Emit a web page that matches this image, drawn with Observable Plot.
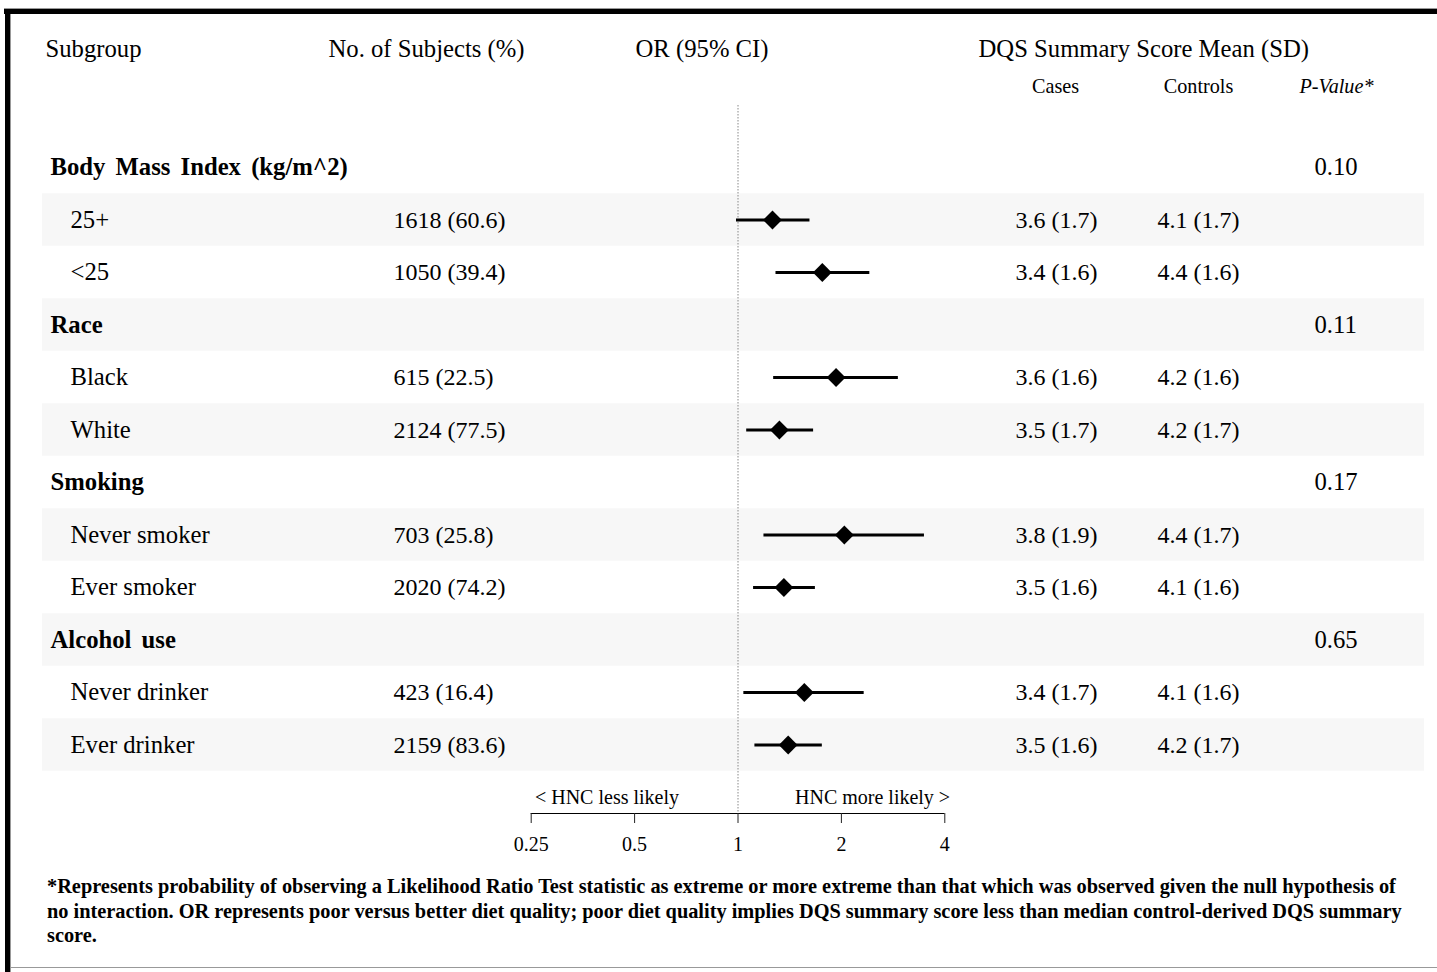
<!DOCTYPE html>
<html>
<head>
<meta charset="utf-8">
<script src="https://cdn.jsdelivr.net/npm/d3@7"></script>
<script src="https://cdn.jsdelivr.net/npm/@observablehq/plot@0.6"></script>
<style>
  html, body { margin: 0; padding: 0; background: #fff; }
  #page { position: relative; width: 1437px; height: 972px; overflow: hidden; background: #fff; font-family: "Liberation Serif", "Times New Roman", serif; color: #000; }
  #chart { position: absolute; left: 0; top: 0; }
  .bd { position: absolute; }
  #foot { position: absolute; left: 47px; top: 874px; font-weight: bold; font-size: 17px; line-height: 24.5px; white-space: nowrap; }
</style>
</head>
<body>
<div id="page">
  <div id="chart"></div>
  <div id="foot"></div>
  <div class="bd" style="left:4px;top:8px;width:1433px;height:1px;background:#999"></div>
  <div class="bd" style="left:4px;top:9px;width:1433px;height:5px;background:#000"></div>
  <div class="bd" style="left:5px;top:9px;width:5px;height:963px;background:#000"></div>
  <div class="bd" style="left:10px;top:14px;width:1px;height:958px;background:#999"></div>
  <div class="bd" style="left:10px;top:967px;width:1427px;height:1px;background:#999"></div>
</div>
<script>
// ---- data ----
const groupNames = ["Body Mass Index (kg/m^2)", "Race", "Smoking", "Alcohol use"];
const groupP = ["0.10", "0.11", "0.17", "0.65"];
const subgroups = ["25+", "<25", "Black", "White", "Never smoker", "Ever smoker", "Never drinker", "Ever drinker"];
const subgroupGroup = [0, 0, 1, 1, 2, 2, 3, 3];
const nSubjects = ["1618 (60.6)", "1050 (39.4)", "615 (22.5)", "2124 (77.5)", "703 (25.8)", "2020 (74.2)", "423 (16.4)", "2159 (83.6)"];
const orEst  = [1.26, 1.76, 1.93, 1.32, 2.04, 1.36, 1.56, 1.40];
const orLow  = [0.99, 1.29, 1.27, 1.06, 1.19, 1.11, 1.04, 1.12];
const orHigh = [1.62, 2.42, 2.93, 1.66, 3.49, 1.68, 2.33, 1.76];
const casesMean    = ["3.6 (1.7)", "3.4 (1.6)", "3.6 (1.6)", "3.5 (1.7)", "3.8 (1.9)", "3.5 (1.6)", "3.4 (1.7)", "3.5 (1.6)"];
const controlsMean = ["4.1 (1.7)", "4.4 (1.6)", "4.2 (1.6)", "4.2 (1.7)", "4.4 (1.7)", "4.1 (1.6)", "4.1 (1.6)", "4.2 (1.7)"];
const orTicks = [0.25, 0.5, 1, 2, 4];
const headerLabels = ["Subgroup", "No. of Subjects (%)", "OR (95% CI)", "DQS Summary Score Mean (SD)"];
const subHeaderLabels = ["Cases", "Controls", "P-Value*"];
const directionLabels = ["< HNC less likely", "HNC more likely >"];
const footLines = [
  "*Represents probability of observing a Likelihood Ratio Test statistic as extreme or more extreme than that which was observed given the null hypothesis of",
  "no interaction. OR represents poor versus better diet quality; poor diet quality implies DQS summary score less than median control-derived DQS summary",
  "score."
];

// ---- build rows ----
const rows = [];
groupNames.forEach((g, gi) => {
  rows.push({type: "group", label: g, p: groupP[gi]});
  subgroups.forEach((s, si) => {
    if (subgroupGroup[si] === gi) {
      rows.push({type: "sub", label: s, n: nSubjects[si], est: orEst[si], lo: orLow[si], hi: orHigh[si], cases: casesMean[si], controls: controlsMean[si]});
    }
  });
});
rows.forEach((r, i) => { r.id = "r" + i; r.shade = i % 2 === 1; });
const groupRows = rows.filter(r => r.type === "group");
const subRows = rows.filter(r => r.type === "sub");
const shadeRows = rows.filter(r => r.shade);

const FONT = "Liberation Serif";
const FS = 24.7;
const NUMFS = 24;
const headerX = [45, 328, 635, 978];
const subHeaderX = [1055, 1198, 1336];

const marks = [
  Plot.cell(shadeRows, {y: "id", fill: "#f7f7f7", insetLeft: 42, insetRight: 13}),
  Plot.ruleX([1], {stroke: "#888", strokeDasharray: "1.5,1.5", strokeWidth: 1}),
  Plot.ruleY(["axis"], {y: d => d, x1: orTicks[0], x2: orTicks[orTicks.length - 1], dy: 16, stroke: "#000", strokeWidth: 1.2}),
  Plot.axisX({ticks: orTicks, tickFormat: d => String(d), tickSize: 10, tickPadding: 13, fontSize: 20, anchor: "bottom", stroke: "#222", fill: "#000"}),
  Plot.ruleY(subRows, {y: "id", x1: "lo", x2: "hi", stroke: "#000", strokeWidth: 3}),
  Plot.dot(subRows, {y: "id", x: "est", symbol: "diamond2", r: 8.5, fill: "#000", stroke: "none"}),
  // group labels and p-values
  Plot.text(groupRows, {y: "id", text: "label", frameAnchor: "left", dx: 50, textAnchor: "start", fontSize: FS, fontWeight: "bold"}),
  Plot.text(groupRows, {y: "id", text: "p", frameAnchor: "left", dx: 1314, textAnchor: "start", fontSize: FS}),
  // subgroup rows
  Plot.text(subRows, {y: "id", text: "label", frameAnchor: "left", dx: 70, textAnchor: "start", fontSize: FS}),
  Plot.text(subRows, {y: "id", text: "n", frameAnchor: "left", dx: 393, textAnchor: "start", fontSize: NUMFS}),
  Plot.text(subRows, {y: "id", text: "cases", frameAnchor: "left", dx: 1015, textAnchor: "start", fontSize: NUMFS}),
  Plot.text(subRows, {y: "id", text: "controls", frameAnchor: "left", dx: 1157, textAnchor: "start", fontSize: NUMFS}),
  // direction labels
  Plot.text([directionLabels[0]], {x: () => 1, y: () => "axis", text: d => d, textAnchor: "end", dx: -59, fontSize: 20}),
  Plot.text([directionLabels[1]], {x: () => 1, y: () => "axis", text: d => d, textAnchor: "start", dx: 57, fontSize: 20})
];
headerLabels.forEach((h, i) => {
  marks.push(Plot.text([h], {text: d => d, frameAnchor: "top-left", lineAnchor: "middle", dx: headerX[i], dy: -56, textAnchor: "start", fontSize: FS}));
});
subHeaderLabels.forEach((h, i) => {
  marks.push(Plot.text([h], {text: d => d, frameAnchor: "top-left", lineAnchor: "middle", dx: subHeaderX[i], dy: -19, textAnchor: "middle", fontSize: 20.2, fontStyle: i === 2 ? "italic" : "normal"}));
});

const chart = Plot.plot({
  width: 1437,
  height: 860,
  marginTop: 105,
  marginBottom: 47,
  marginLeft: 0,
  marginRight: 0,
  style: {fontFamily: FONT, color: "#000", background: "transparent", overflow: "visible"},
  x: {type: "log", domain: [orTicks[0], orTicks[orTicks.length - 1]], range: [530.7, 944.3], axis: null},
  y: {type: "band", domain: rows.map(r => r.id).concat("axis"), range: [140.75, 823.25], padding: 0, round: false, axis: null},
  marks
});
chart.querySelectorAll('g[font-weight="bold"]').forEach(g => g.setAttribute("word-spacing", "4"));
document.getElementById("chart").appendChild(chart);

// footnote
const foot = document.getElementById("foot");
footLines.forEach(l => { const d = document.createElement("div"); d.textContent = l; foot.appendChild(d); });
const w = foot.firstChild.getBoundingClientRect().width;
if (w > 0) foot.style.fontSize = (17 * 1355 / w).toFixed(2) + "px";
</script>
</body>
</html>
